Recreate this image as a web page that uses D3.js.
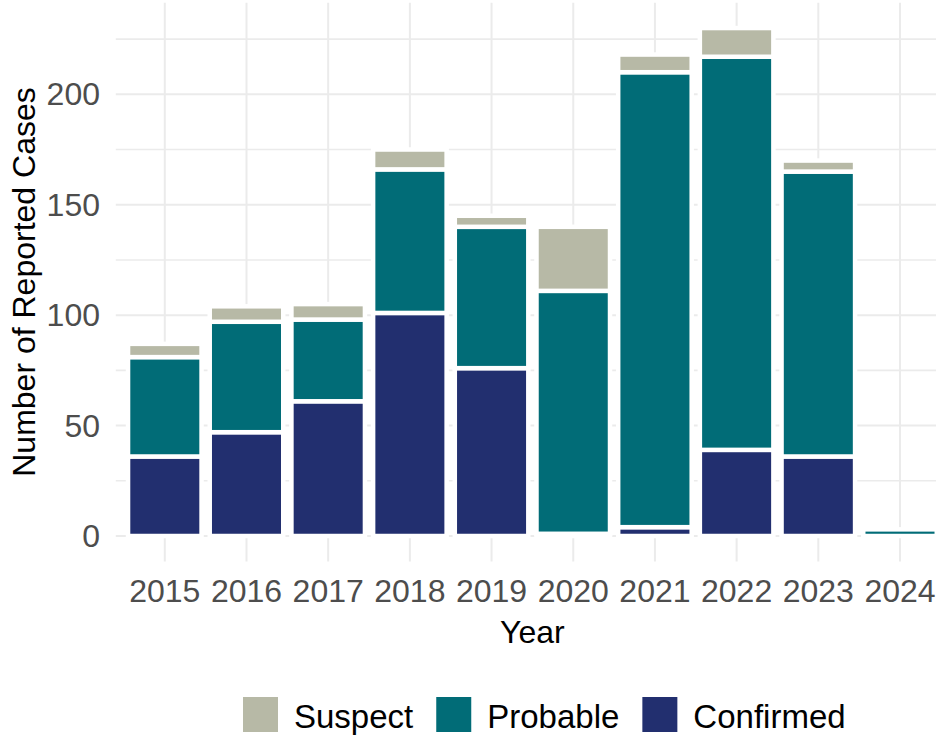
<!DOCTYPE html>
<html>
<head>
<meta charset="utf-8">
<script src="https://cdn.jsdelivr.net/npm/d3@7"></script>
<style>
  body { margin: 0; background: #fff; }
  text { font-family: "Liberation Sans", Arial, sans-serif; }
</style>
</head>
<body>
<svg id="chart"></svg>
<script>
// values
var years = ["2015", "2016", "2017", "2018", "2019", "2020", "2021", "2022", "2023", "2024"];
var confirmed = [36, 47, 61, 101, 76, 1, 4, 39, 36, 0];
var probable = [45, 50, 37, 65, 64, 110, 206, 178, 129, 3];
var suspect = [6, 7, 7, 9, 5, 29, 8, 13, 5, 0];
var yTicks = [0, 50, 100, 150, 200];
var yMinor = [25, 75, 125, 175, 225];

var keys = ["Confirmed", "Probable", "Suspect"];
var legendKeys = ["Suspect", "Probable", "Confirmed"];
var colors = {Suspect: "#b7b9a6", Probable: "#016c77", Confirmed: "#222f6f"};

function init(){
    var width = 936;
    var height = 736;
    var svg = d3.select("#chart").attr("width", width).attr("height", height);

    // build rows for the stack
    var rows = years.map(function(y, i){
        return {year: y, Confirmed: confirmed[i], Probable: probable[i], Suspect: suspect[i]};
    });
    var series = d3.stack().keys(keys)(rows);

    // scales
    var x = d3.scalePoint().domain(years).range([164.8, 900]);
    var step = x.step();
    var barW = step * 0.9;
    var y = d3.scaleLinear().domain([0, 200]).range([536, 94.3]);
    var panelLeft = x(years[0]) - step * 0.6;
    var panelRight = x(years[years.length - 1]) + step * 0.6;
    var panelTop = y(241.5);
    var panelBottom = y(-11.5);

    // grid
    var grid = svg.append("g");
    grid.selectAll("line.minor")
        .data(yMinor)
        .enter()
        .append("line")
        .attr("x1", panelLeft).attr("x2", panelRight)
        .attr("y1", function(d){ return y(d); })
        .attr("y2", function(d){ return y(d); })
        .attr("stroke", "#ebebeb")
        .style("stroke-width", 1.6);
    grid.selectAll("line.major")
        .data(yTicks)
        .enter()
        .append("line")
        .attr("x1", panelLeft).attr("x2", panelRight)
        .attr("y1", function(d){ return y(d); })
        .attr("y2", function(d){ return y(d); })
        .attr("stroke", "#ebebeb")
        .style("stroke-width", 2);
    grid.selectAll("line.vert")
        .data(years)
        .enter()
        .append("line")
        .attr("x1", function(d){ return x(d); })
        .attr("x2", function(d){ return x(d); })
        .attr("y1", panelTop).attr("y2", panelBottom)
        .attr("stroke", "#ebebeb")
        .style("stroke-width", 2);

    // bars
    svg.append("g")
        .selectAll("g")
        .data(series)
        .enter()
        .append("g")
        .attr("fill", function(d){ return colors[d.key]; })
        .selectAll("rect")
        .data(function(d){ return d; })
        .enter()
        .append("rect")
        .attr("x", function(d){ return x(d.data.year) - barW / 2; })
        .attr("y", function(d){ return y(d[1]); })
        .attr("width", barW)
        .attr("height", function(d){ return y(d[0]) - y(d[1]); })
        .attr("stroke", "#fff")
        .style("stroke-width", 4.5);

    // y tick labels
    svg.append("g")
        .selectAll("text")
        .data(yTicks)
        .enter()
        .append("text")
        .attr("x", 100)
        .attr("y", function(d){ return y(d) + 11; })
        .attr("text-anchor", "end")
        .attr("fill", "#4d4d4d")
        .style("font-size", "32px")
        .text(function(d){ return d; });

    // x tick labels
    svg.append("g")
        .selectAll("text")
        .data(years)
        .enter()
        .append("text")
        .attr("x", function(d){ return x(d); })
        .attr("y", 602)
        .attr("text-anchor", "middle")
        .attr("fill", "#4d4d4d")
        .style("font-size", "32px")
        .text(function(d){ return d; });

    // axis titles
    svg.append("text")
        .attr("x", (panelLeft + panelRight) / 2)
        .attr("y", 643)
        .attr("text-anchor", "middle")
        .attr("fill", "#000")
        .style("font-size", "32px")
        .text("Year");
    svg.append("text")
        .attr("transform", "translate(35," + ((panelTop + panelBottom) / 2) + ") rotate(-90)")
        .attr("text-anchor", "middle")
        .attr("fill", "#000")
        .style("font-size", "32px")
        .text("Number of Reported Cases");

    // legend
    var leg = svg.append("g");
    var lx = 243;
    legendKeys.forEach(function(k){
        leg.append("rect")
            .attr("x", lx).attr("y", 697)
            .attr("width", 35).attr("height", 35)
            .attr("fill", colors[k]);
        var t = leg.append("text")
            .attr("x", lx + 51)
            .attr("y", 728)
            .attr("fill", "#000")
            .style("font-size", "33px")
            .text(k);
        lx = lx + 51 + t.node().getComputedTextLength() + 23;
    });
}
init();
</script>
</body>
</html>
